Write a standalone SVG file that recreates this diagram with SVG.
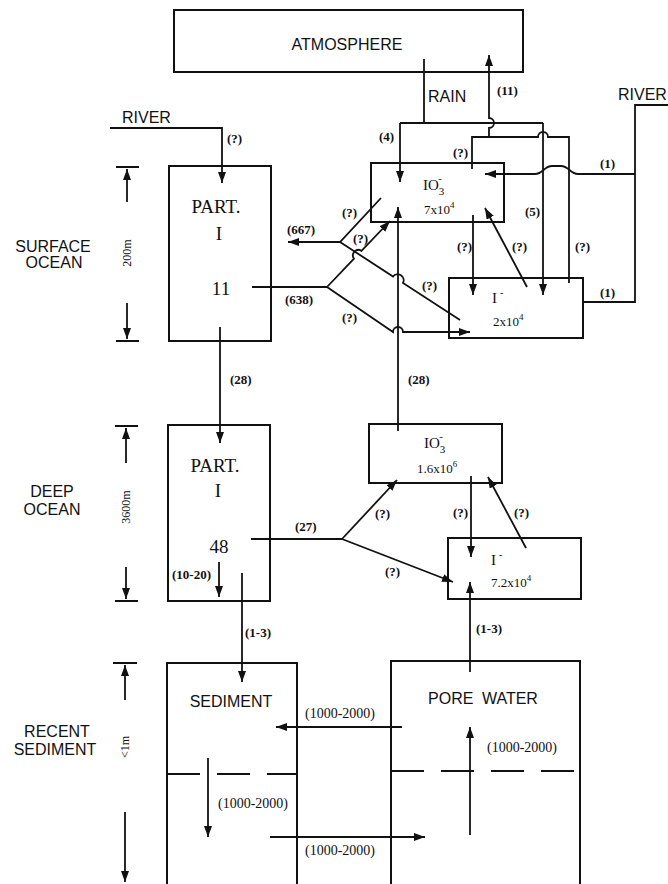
<svg xmlns="http://www.w3.org/2000/svg" width="668" height="884" viewBox="0 0 668 884">
<style>
.box{fill:none;stroke:#111;stroke-width:2}
.ln{fill:none;stroke:#111;stroke-width:1.8}
.arr{marker-end:url(#ah)}
.dash{fill:none;stroke:#111;stroke-width:2;stroke-dasharray:33 17}
.sans{font-family:"Liberation Sans",Arial,sans-serif;font-size:16px;fill:#111}
.big{font-family:"Liberation Serif","Times New Roman",serif;font-size:19px;fill:#111}
.ion{font-family:"Liberation Serif","Times New Roman",serif;font-size:15px;fill:#111}
.num{font-family:"Liberation Serif","Times New Roman",serif;font-size:13px;fill:#111}
.lbl{font-family:"Liberation Serif","Times New Roman",serif;font-size:13px;font-weight:bold;fill:#111}
.rng{font-family:"Liberation Serif","Times New Roman",serif;font-size:14px;fill:#111}
.dim{font-family:"Liberation Serif","Times New Roman",serif;font-size:12px;fill:#111}
.mid{text-anchor:middle}
</style>
<defs>
<marker id="ah" markerUnits="userSpaceOnUse" markerWidth="11" markerHeight="8" refX="11" refY="4" orient="auto">
<path d="M0,0 L11,4 L0,8 z" fill="#111"/>
</marker>
</defs>
<rect width="668" height="884" fill="#fff"/>

<g id="atmosphere">
<rect class="box" x="174" y="10" width="349" height="62"/>
<text class="sans mid" x="347" y="50">ATMOSPHERE</text>
</g>

<g id="part-surface">
<rect class="box" x="169" y="166" width="102" height="175"/>
<text class="big mid" x="216" y="213">PART.</text>
<text class="big mid" x="219" y="240">I</text>
<text class="big mid" x="221" y="295">11</text>
</g>

<g id="io3-surface">
<rect class="box" x="371" y="163" width="133" height="59"/>
<text class="ion" x="423" y="190">IO<tspan font-size="11" dy="5">3</tspan><tspan font-size="11" dx="-6" dy="-13">-</tspan></text>
<text class="num" x="424" y="214">7x10<tspan font-size="9" dy="-6">4</tspan></text>
</g>

<g id="i-surface">
<rect class="box" x="449" y="278" width="134" height="60"/>
<text class="ion" x="492" y="303">I<tspan font-size="10" dx="3" dy="-7">-</tspan></text>
<text class="num" x="493" y="326">2x10<tspan font-size="9" dy="-6">4</tspan></text>
</g>

<g id="part-deep">
<rect class="box" x="168" y="425" width="102" height="176"/>
<text class="big mid" x="215" y="472">PART.</text>
<text class="big mid" x="218" y="497">I</text>
<text class="big mid" x="219" y="553" font-size="20">48</text>
<text class="lbl" x="172" y="579">(10-20)</text>
</g>

<g id="io3-deep">
<rect class="box" x="369" y="424" width="133" height="59"/>
<text class="ion" x="424" y="448">IO<tspan font-size="11" dy="5">3</tspan><tspan font-size="11" dx="-6" dy="-13">-</tspan></text>
<text class="num" x="417" y="473">1.6x10<tspan font-size="9" dy="-6">6</tspan></text>
</g>

<g id="i-deep">
<rect class="box" x="448" y="538" width="133" height="61"/>
<text class="ion" x="491" y="565">I<tspan font-size="10" dx="3" dy="-7">-</tspan></text>
<text class="num" x="491" y="587">7.2x10<tspan font-size="9" dy="-6">4</tspan></text>
</g>

<g id="sediment">
<path class="box" d="M167,884 V663 H297 V884"/>
<line class="dash" x1="167" y1="774" x2="297" y2="774"/>
<text class="sans mid" x="231" y="707">SEDIMENT</text>
</g>

<g id="pore-water">
<path class="box" d="M391,884 V661 H580 V884"/>
<line class="dash" x1="391" y1="771" x2="580" y2="771"/>
<text class="sans mid" x="483" y="704" word-spacing="4">PORE WATER</text>
</g>

<g id="zone-labels">
<text class="sans mid" x="53" y="252">SURFACE</text>
<text class="sans mid" x="54" y="268">OCEAN</text>
<text class="sans mid" x="52" y="497">DEEP</text>
<text class="sans mid" x="52" y="515">OCEAN</text>
<text class="sans mid" x="57" y="737">RECENT</text>
<text class="sans mid" x="55" y="755">SEDIMENT</text>
<text class="dim mid" transform="translate(127,253) rotate(-90)" y="4">200m</text>
<text class="dim mid" transform="translate(126,507) rotate(-90)" y="4">3600m</text>
<text class="dim mid" transform="translate(125,747) rotate(-90)" y="4">&lt;1m</text>
<path class="ln" d="M116,167 H139 M116,341 H139 M115,426 H138 M115,601 H138 M113,663 H137"/>
<path class="ln arr" d="M127,202 V169"/>
<path class="ln arr" d="M127,303 V339"/>
<path class="ln arr" d="M126,463 V428"/>
<path class="ln arr" d="M126,567 V599"/>
<path class="ln arr" d="M125,700 V665"/>
<path class="ln arr" d="M125,812 V882"/>
</g>

<g id="connectors">
<!-- rain -->
<path class="ln" d="M424,59 V123 M400,123 H543"/>
<path class="ln arr" d="M400,123 V182"/>
<path class="ln arr" d="M543,123 V295"/>
<!-- volatile loop and (11) -->
<path class="ln" d="M472,169 V137 H538 a5,5 0 0 1 10,0 H569 V283"/>
<path class="ln arr" d="M489,137 V128 a5,5 0 0 0 0,-10 V55"/>
<!-- river right -->
<path class="ln" d="M668,105 H635 V302 H583"/>
<path class="ln arr" d="M635,174 H578 C570,174 569,166 561,166 H552 C544,166 543,174 535,174 H485"/>
<!-- river left -->
<path class="ln arr" d="M110,128 H222 V183"/>
<!-- surface internal -->
<path class="ln arr" d="M473,215 V295"/>
<path class="ln arr" d="M527,287 L485,208"/>
<!-- particle exchange surface -->
<path class="ln" d="M252,287 H327"/>
<path class="ln arr" d="M327,287 L354,258.7 a5.5,5.5 0 0 1 7.5,-7.8 L390,221"/>
<path class="ln arr" d="M327,287 L393,332 a5,5 0 0 1 10,0 H470"/>
<path class="ln arr" d="M381,198 L340,242 H288"/>
<path class="ln" d="M340,242 L393,276.5 a6,6 0 0 1 10,6.5 L460,320"/>
<!-- (28) -->
<path class="ln arr" d="M220,327 V443"/>
<path class="ln arr" d="M398,431 V207"/>
<!-- deep -->
<path class="ln" d="M251,539 H342"/>
<path class="ln arr" d="M342,539 L397,480"/>
<path class="ln arr" d="M342,539 L453,582"/>
<path class="ln arr" d="M471,476 V557"/>
<path class="ln arr" d="M526,548 L488,477"/>
<path class="ln arr" d="M219,562 V597"/>
<path class="ln arr" d="M242,573 V682"/>
<path class="ln arr" d="M470,672 V582"/>
<!-- sediment -->
<path class="ln arr" d="M402,727 H276"/>
<path class="ln arr" d="M270,837 H425"/>
<path class="ln arr" d="M208,758 V837"/>
<path class="ln arr" d="M470,835 V727"/>
</g>

<g id="connector-labels">
<text class="sans" x="428" y="102">RAIN</text>
<text class="sans" x="618" y="100">RIVER</text>
<text class="sans" x="122" y="123">RIVER</text>
<text class="lbl" x="497" y="95">(11)</text>
<text class="lbl" x="227" y="143">(?)</text>
<text class="lbl" x="379" y="141">(4)</text>
<text class="lbl" x="453" y="157">(?)</text>
<text class="lbl" x="600" y="168">(1)</text>
<text class="lbl" x="525" y="216">(5)</text>
<text class="lbl" x="457" y="251">(?)</text>
<text class="lbl" x="512" y="251">(?)</text>
<text class="lbl" x="575" y="251">(?)</text>
<text class="lbl" x="600" y="297">(1)</text>
<text class="lbl" x="287" y="234">(667)</text>
<text class="lbl" x="342" y="217">(?)</text>
<text class="lbl" x="353" y="243">(?)</text>
<text class="lbl" x="422" y="290">(?)</text>
<text class="lbl" x="342" y="322">(?)</text>
<text class="lbl" x="285" y="304">(638)</text>
<text class="lbl" x="230" y="384">(28)</text>
<text class="lbl" x="408" y="384">(28)</text>
<text class="lbl" x="295" y="531">(27)</text>
<text class="lbl" x="375" y="518">(?)</text>
<text class="lbl" x="385" y="576">(?)</text>
<text class="lbl" x="453" y="517">(?)</text>
<text class="lbl" x="514" y="517">(?)</text>
<text class="lbl" x="245" y="637">(1-3)</text>
<text class="lbl" x="476" y="633">(1-3)</text>
<text class="rng" x="305" y="718">(1000-2000)</text>
<text class="rng" x="487" y="752">(1000-2000)</text>
<text class="rng" x="218" y="808">(1000-2000)</text>
<text class="rng" x="305" y="855">(1000-2000)</text>
</g>
</svg>
